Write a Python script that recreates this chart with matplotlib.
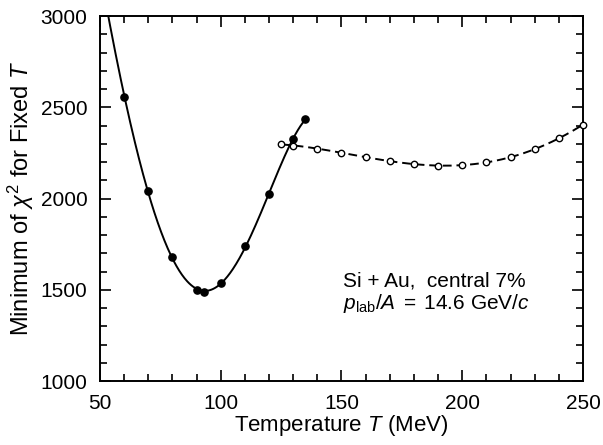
import numpy as np
import matplotlib
matplotlib.use("Agg")
import matplotlib.pyplot as plt
from matplotlib.ticker import MultipleLocator

plt.rcParams['font.family'] = ['Liberation Sans', 'DejaVu Sans']
plt.rcParams['mathtext.fontset'] = 'custom'
plt.rcParams['mathtext.rm'] = 'Liberation Sans'
plt.rcParams['mathtext.it'] = 'Liberation Sans:italic'
plt.rcParams['mathtext.sf'] = 'Liberation Sans'

# Filled points (solid curve)
T_filled = [60, 70, 80, 90, 93, 100, 110, 120, 130, 135]
chi2_filled = [2555, 2040, 1680, 1497, 1485, 1535, 1740, 2025, 2325, 2435]

# Open points (dashed curve)
T_open = [125, 130, 140, 150, 160, 170, 180, 190, 200, 210, 220, 230, 240, 250]
chi2_open = [2299, 2289, 2270, 2251, 2229, 2207, 2189, 2178, 2182, 2198, 2226, 2270, 2333, 2403]

# Solid curve (runs past the top of the axes)
curve_T = [53.5, 60, 70, 80, 90, 93, 100, 110, 120, 130, 135]
curve_chi2 = [3000, 2555, 2040, 1680, 1497, 1485, 1535, 1740, 2025, 2325, 2435]

fig = plt.figure(figsize=(6.03, 4.45), dpi=100)
ax = fig.add_axes([0.1658, 0.1438, 0.801, 0.8202])

# smooth lines through the points
c1 = np.polyfit(curve_T, curve_chi2, 5)
t1 = np.linspace(52, 135, 300)
ax.plot(t1, np.polyval(c1, t1), color='black', lw=1.4, zorder=2)

c2 = np.polyfit(T_open, chi2_open, 4)
t2 = np.linspace(125, 250, 300)
ax.plot(t2, np.polyval(c2, t2), color='black', lw=1.4, ls=(0, (4.5, 2.5)), zorder=2)

ax.plot(T_filled, chi2_filled, 'o', color='black', ms=5.2, zorder=3)
ax.plot(T_open, chi2_open, 'o', mfc='white', mec='black', mew=1.0, ms=4.6, zorder=3,
        clip_on=False)

ax.set_xlim(50, 250)
ax.set_ylim(1000, 3000)
ax.xaxis.set_major_locator(MultipleLocator(50))
ax.xaxis.set_minor_locator(MultipleLocator(10))
ax.yaxis.set_major_locator(MultipleLocator(500))
ax.yaxis.set_minor_locator(MultipleLocator(100))
ax.tick_params(which='both', direction='in', top=True, right=True, width=1.2,
               labelsize=15)
ax.tick_params(which='major', length=8)
ax.tick_params(which='minor', length=5)
ax.tick_params(axis='y', which='major', pad=9)
ax.tick_params(axis='x', which='major', pad=9.5)
for s in ax.spines.values():
    s.set_linewidth(1.4)

ax.set_xlabel('Temperature $T$ (MeV)', fontsize=16, labelpad=0)
ax.set_ylabel(r'Minimum of $\chi^2$ for Fixed $T$', fontsize=17, labelpad=3)

ax.text(150.6, 1600, 'Si + Au,  central 7%\n' + r'$p_{\rm lab}/A\;=\;14.6$ GeV/$c$',
        fontsize=15, ha='left', va='top', linespacing=1.1)

fig.savefig('out.png', dpi=100)
